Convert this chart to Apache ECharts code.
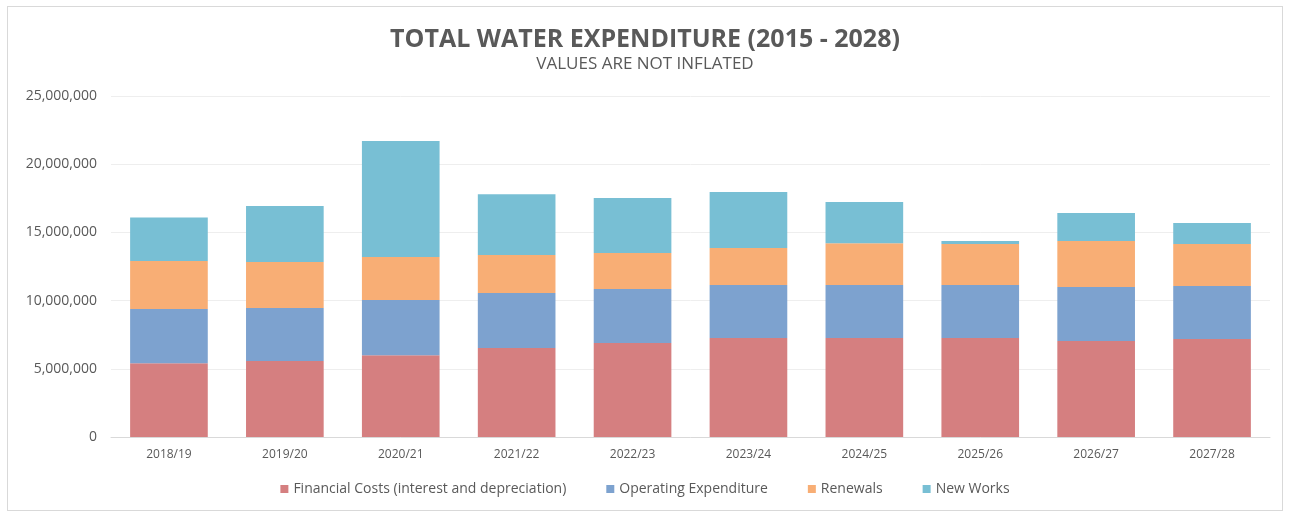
<!DOCTYPE html>
<html>
<head>
<meta charset="utf-8">
<script src="https://cdn.jsdelivr.net/npm/echarts@6/dist/echarts.min.js"></script>
<style>
html,body{margin:0;padding:0;background:#fff;}
#wrap{position:absolute;left:7px;top:6px;width:1276px;height:505px;border:1px solid #d9d9d9;box-sizing:border-box;}
#chart{position:absolute;left:0;top:0;width:1290px;height:513px;}
</style>
</head>
<body>
<div id="wrap"></div>
<div id="chart"></div>
<script>
const categories = ['2018/19','2019/20','2020/21','2021/22','2022/23','2023/24','2024/25','2025/26','2026/27','2027/28'];
const financialCosts = [5400000, 5570000, 6000000, 6520000, 6900000, 7260000, 7260000, 7260000, 7040000, 7180000];
const operatingExpenditure = [3980000, 3890000, 4040000, 4040000, 3950000, 3880000, 3880000, 3880000, 3960000, 3890000];
const renewals = [3520000, 3370000, 3160000, 2780000, 2640000, 2720000, 3060000, 3010000, 3370000, 3080000];
const newWorks = [3200000, 4110000, 8500000, 4460000, 4030000, 4100000, 3030000, 220000, 2050000, 1540000];
const seriesNames = ['Financial Costs (interest and depreciation)', 'Operating Expenditure', 'Renewals', 'New Works'];
const colors = ['#D57F80', '#7DA2CF', '#F8AE75', '#78BFD4'];

const chart = echarts.init(document.getElementById('chart'));
const fontFam = '"Open Sans", sans-serif';
const dataSets = [financialCosts, operatingExpenditure, renewals, newWorks];
chart.setOption({
  animation: false,
  title: {
    text: 'TOTAL WATER EXPENDITURE (2015 - 2028)',
    subtext: 'VALUES ARE NOT INFLATED',
    left: 'center',
    top: 22,
    itemGap: 4,
    textStyle: {fontFamily: fontFam, fontSize: 25, fontWeight: 'bold', color: '#595959'},
    subtextStyle: {fontFamily: fontFam, fontSize: 17, color: '#595959'}
  },
  legend: {
    bottom: 12,
    left: 'center',
    itemWidth: 8,
    itemHeight: 8,
    itemGap: 40,
    icon: 'rect',
    textStyle: {fontFamily: fontFam, fontSize: 14, color: '#595959'},
    data: seriesNames
  },
  grid: {left: 111, right: 20, top: 96, bottom: 76},
  xAxis: {
    type: 'category',
    data: categories,
    axisLine: {lineStyle: {color: '#d9d9d9'}},
    axisTick: {show: false},
    axisLabel: {fontFamily: fontFam, fontSize: 12, color: '#595959', margin: 12}
  },
  yAxis: {
    type: 'value',
    min: 0, max: 25000000, interval: 5000000,
    axisLine: {show: false},
    axisTick: {show: false},
    splitLine: {lineStyle: {color: '#eeeeee'}},
    axisLabel: {
      fontFamily: fontFam, fontSize: 14, color: '#595959', margin: 14,
      formatter: v => v.toLocaleString('en-US')
    }
  },
  series: seriesNames.map((n, i) => ({
    name: n,
    type: 'bar',
    stack: 'total',
    barCategoryGap: '33%',
    itemStyle: {color: colors[i]},
    data: dataSets[i]
  }))
});
</script>
</body>
</html>
